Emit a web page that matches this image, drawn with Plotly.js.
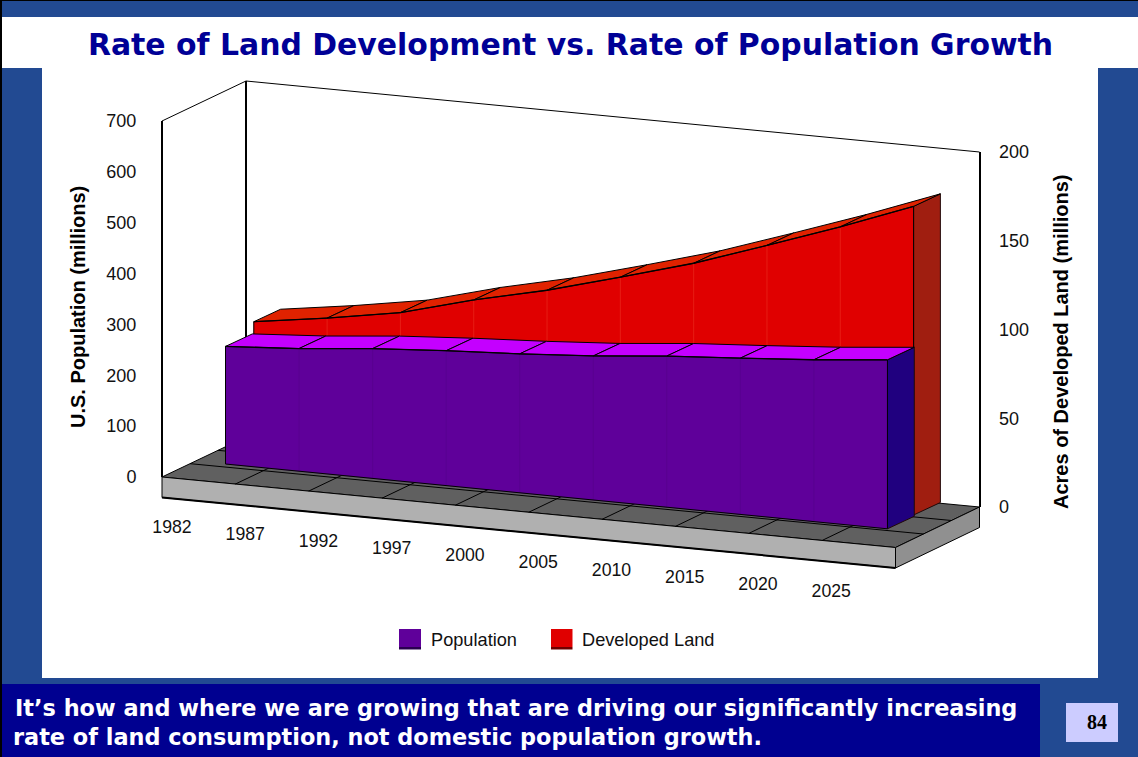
<!DOCTYPE html>
<html>
<head>
<meta charset="utf-8">
<script src="https://cdn.plot.ly/plotly-3.0.1.min.js"></script>
<style>html,body{margin:0;padding:0;background:#fff}#chart{width:1138px;height:757px}</style>
</head>
<body>
<div id="chart"></div>
<script>
// Chart data
const years = ['1982','1987','1992','1997','2000','2005','2010','2015','2020','2025'];
const population = [231, 241, 255, 265, 273, 283, 297, 307, 318, 332];
const developedLand = [73.4, 79.4, 86.4, 97.5, 106.9, 118.2, 130, 144, 158.4, 173.9];
const popTicks = [0, 700];
const landTicks = [0, 200];

// Oblique view of the box: screen offsets for one series depth
const W = 1138, H = 757;
const depthX = 26.8, depthY = -12.5;
const pxPerPop = 356.3 / 700, pxPerLand = 355 / 200;

// Floor frame
const floor = {
  fl: [162, 477], fr: [895.5, 547.5], br: [979.5, 507], bl: [246, 437], thick: 20.5
};
const slabPop = {x0: 225.5, y0: 464, stepX: 73.55, stepY: 7.2, scale: pxPerPop, values: population};
const slabLand = {x0: 253.8, y0: 452, stepX: 73.31, stepY: 7.0, scale: pxPerLand, values: developedLand};

const basePt = (s, i, back) => [s.x0 + s.stepX * i + (back ? depthX : 0), s.y0 + s.stepY * i + (back ? depthY : 0)];
const topPt = (s, i, back) => { const b = basePt(s, i, back); return [b[0], b[1] - s.values[i] * s.scale]; };

const traces = [];
function poly(points, fill, lineColor, lineWidth) {
  const xs = points.map(p => p[0]), ys = points.map(p => p[1]);
  xs.push(xs[0]); ys.push(ys[0]);
  traces.push({
    type: 'scatter', mode: 'lines', x: xs, y: ys, fill: 'toself', fillcolor: fill,
    line: {color: lineColor || fill, width: lineWidth === undefined ? 1 : lineWidth},
    hoverinfo: 'skip', showlegend: false
  });
}
function seg(a, b, color, width) {
  traces.push({
    type: 'scatter', mode: 'lines', x: [a[0], b[0]], y: [a[1], b[1]],
    line: {color: color, width: width}, hoverinfo: 'skip', showlegend: false
  });
}
const lerp = (a, b, t) => [a[0] + (b[0] - a[0]) * t, a[1] + (b[1] - a[1]) * t];

// Walls of the box
seg(floor.bl, [246, 81], '#000', 2);
seg([246, 81], [979.5, 152], '#000', 1);
seg([162, 121], [246, 81], '#000', 1);

// Floor slab: top, front and right faces
const down = p => [p[0], p[1] + floor.thick];
poly([floor.fl, floor.fr, floor.br, floor.bl], '#606060', '#000', 1);
poly([floor.fl, floor.fr, down(floor.fr), down(floor.fl)], '#b0b0b0', '#000', 1);
poly([floor.fr, floor.br, down(floor.br), down(floor.fr)], '#909090', '#000', 1);
seg(down(floor.fl), down(floor.fr), '#000', 2);
for (let k = 1; k < 10; k++) {
  seg(lerp(floor.fl, floor.fr, k / 10), lerp(floor.bl, floor.br, k / 10), '#000', 1);
}
[1 / 3, 2 / 3].forEach(d => seg(lerp(floor.fl, floor.bl, d), lerp(floor.fr, floor.br, d), '#000', 1));

// One extruded area series: side, front and top faces
function drawSlab(s, faceColor, topColor, sideColor, seamColor) {
  const n = s.values.length;
  const frontPts = [];
  for (let i = 0; i < n; i++) frontPts.push(topPt(s, i, false));
  for (let i = n - 1; i >= 0; i--) frontPts.push(basePt(s, i, false));
  poly([topPt(s, n - 1, false), topPt(s, n - 1, true), basePt(s, n - 1, true), basePt(s, n - 1, false)], sideColor, '#200808', 1);
  poly(frontPts, faceColor, faceColor, 0.5);
  for (let i = 1; i < n - 1; i++) seg(basePt(s, i, false), topPt(s, i, false), seamColor, 0.7);
  seg(basePt(s, 0, false), topPt(s, 0, false), '#000', 1);
  seg(basePt(s, n - 1, false), topPt(s, n - 1, false), '#000', 1);
  seg(basePt(s, 0, false), basePt(s, n - 1, false), '#000', 1);
  for (let i = 0; i < n - 1; i++) {
    poly([topPt(s, i, false), topPt(s, i + 1, false), topPt(s, i + 1, true), topPt(s, i, true)], topColor, '#000', 1);
  }
  for (let i = 0; i < n - 1; i++) seg(topPt(s, i, false), topPt(s, i + 1, false), '#000', 1.3);
}
drawSlab(slabLand, '#e00000', '#e02200', '#a01e10', '#ea2a1c');
drawSlab(slabPop, '#5f009a', '#c400ff', '#20007f', '#56008c');

// Category labels run along the front of the floor
traces.push({
  type: 'scatter', mode: 'text',
  x: years.map((_, i) => 172 + 73.25 * i),
  y: years.map((_, i) => 528.5 + 7.1 * i),
  text: years, textposition: 'middle center',
  textfont: {family: 'Liberation Sans, Arial, sans-serif', size: 17.7, color: '#111'},
  hoverinfo: 'skip', showlegend: false
});

// Axes carrying the value ticks
const axisFont = {family: 'Liberation Sans, Arial, sans-serif', size: 18, color: '#111'};
const titleFont = {family: 'Liberation Sans, Arial, sans-serif', size: 20, color: '#000'};
traces.push({type: 'scatter', mode: 'lines', x: [0], y: [popTicks[0]], yaxis: 'y2', hoverinfo: 'skip', showlegend: false, line: {width: 0}});
traces.push({type: 'scatter', mode: 'lines', x: [0], y: [landTicks[0]], yaxis: 'y3', hoverinfo: 'skip', showlegend: false, line: {width: 0}});

const rect = (x0, y0, x1, y1, color, extra) => Object.assign({
  type: 'rect', xref: 'x', yref: 'y', x0, y0, x1, y1, fillcolor: color, line: {width: 0}, layer: 'below'
}, extra || {});
const note = (text, x, y, font, extra) => Object.assign({
  text, x, y, xanchor: 'left', yanchor: 'middle', showarrow: false, xref: 'x', yref: 'y', font
}, extra || {});

const legendFont = {family: 'Liberation Sans, Arial, sans-serif', size: 18.2, color: '#111'};
const bannerFont = {family: 'DejaVu Sans, sans-serif', size: 22.4, color: '#fff'};

const layout = {
  width: W, height: H, margin: {l: 0, r: 0, t: 0, b: 0},
  paper_bgcolor: '#224a92', plot_bgcolor: 'rgba(0,0,0,0)', showlegend: false,
  title: {
    text: '<b>Rate of Land Development vs. Rate of Population Growth</b>',
    x: 570.5 / W, xanchor: 'center', y: 1 - 45 / H, yanchor: 'middle', xref: 'paper', yref: 'paper',
    font: {family: 'DejaVu Sans, sans-serif', size: 29.9, color: '#000096'}
  },
  xaxis: {range: [0, W], visible: false, fixedrange: true},
  yaxis: {range: [H, 0], visible: false, fixedrange: true},
  yaxis2: {
    anchor: 'free', position: 162 / W, side: 'left',
    domain: [(H - 477) / H, (H - 120.7) / H], range: popTicks, dtick: 100, tick0: 0,
    showgrid: false, zeroline: false, showline: true, linecolor: '#000', linewidth: 2,
    ticks: '', ticklabelstandoff: 21, tickfont: axisFont, fixedrange: true
  },
  yaxis3: {
    anchor: 'free', position: 979.5 / W, side: 'right',
    domain: [(H - 507) / H, (H - 152) / H], range: landTicks, dtick: 50, tick0: 0,
    showgrid: false, zeroline: false, showline: true, linecolor: '#000', linewidth: 2,
    ticks: '', ticklabelstandoff: 15, tickfont: axisFont, fixedrange: true
  },
  shapes: [
    rect(2, 1, W, 17, '#224a92'),
    rect(2, 17, W, 68, '#ffffff'),
    rect(42, 68, 1098, 678, '#ffffff'),
    rect(2, 684, 1040, H, '#000090'),
    rect(1066, 703, 1118, 742, '#ccccff'),
    rect(0, 0, W, 1, '#000000'),
    rect(0, 0, 2, H, '#000000'),
    // legend keys
    rect(399, 629, 421, 647, '#5f009a'),
    rect(399, 647, 421, 649.5, '#2a0050'),
    rect(551, 629, 572.5, 647, '#e00000'),
    rect(551, 647, 572.5, 649.5, '#700000')
  ],
  annotations: [
    note('Population', 429, 640, legendFont),
    note('Developed Land', 580, 640, legendFont),
    note('<b>It’s how and where we are growing that are driving our significantly increasing</b>', 13, 708, bannerFont),
    note('<b>rate of land consumption, not domestic population growth.</b>', 11, 737, bannerFont),
    note('<b>84</b>', 1097, 722, {family: 'Liberation Serif, serif', size: 20, color: '#000'}, {xanchor: 'center'}),
    note('<b>U.S. Population (millions)</b>', 78, 307, titleFont, {xanchor: 'center', textangle: -90}),
    note('<b>Acres of Developed Land (millions)</b>', 1061, 342, titleFont, {xanchor: 'center', textangle: -90})
  ]
};

Plotly.newPlot('chart', traces, layout, {displayModeBar: false, responsive: false});
</script>
</body>
</html>
